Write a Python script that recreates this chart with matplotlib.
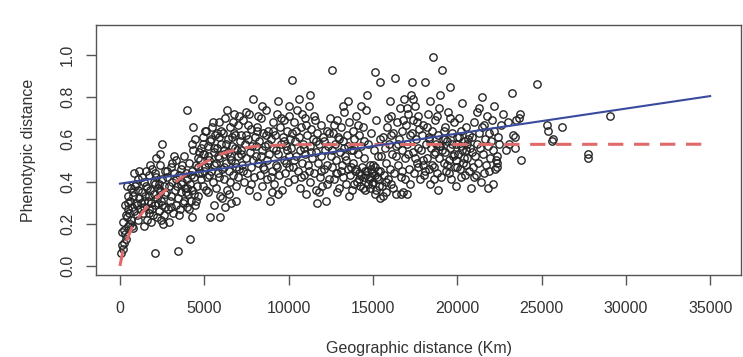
#!/usr/bin/env python3

import numpy as np
import matplotlib
matplotlib.use("Agg")
import matplotlib.pyplot as plt

plt.rcParams['font.family'] = ['Liberation Sans', 'DejaVu Sans']

# pairwise points (geographic km, phenotypic distance)
pts_0_1k = [(50, 0.06), (120, 0.10), (200, 0.08), (150, 0.16), (250, 0.17), (300, 0.15), (350, 0.13),
            (180, 0.21), (400, 0.23), (450, 0.19), (500, 0.27), (550, 0.25), (300, 0.29), (600, 0.31),
            (650, 0.22), (700, 0.28), (750, 0.35), (800, 0.33), (850, 0.26), (900, 0.38), (950, 0.30),
            (1000, 0.24), (1050, 0.36), (1100, 0.41), (1150, 0.32), (400, 0.38), (700, 0.19), (850, 0.44),
            (1000, 0.29), (1200, 0.27), (600, 0.20), (250, 0.11), (500, 0.33), (1100, 0.22), (950, 0.39),
            (350, 0.24), (800, 0.18), (1150, 0.45), (650, 0.37), (450, 0.30)]

pts_1_3k = [(1250, 0.30), (1300, 0.35), (1350, 0.25), (1400, 0.40), (1450, 0.28), (1500, 0.33), (1550, 0.38),
            (1600, 0.22), (1650, 0.31), (1700, 0.43), (1750, 0.27), (1800, 0.36), (1850, 0.30), (1900, 0.46),
            (1950, 0.24), (2000, 0.34), (2050, 0.39), (2100, 0.29), (2150, 0.42), (2200, 0.32), (2250, 0.37),
            (2300, 0.26), (2350, 0.48), (2400, 0.35), (2450, 0.31), (2500, 0.41), (2550, 0.20), (2600, 0.38),
            (2650, 0.45), (2700, 0.28), (1300, 0.42), (1450, 0.19), (1600, 0.37), (1750, 0.33), (1900, 0.27),
            (2050, 0.44), (2200, 0.23), (2350, 0.36), (2500, 0.29), (2650, 0.34), (1400, 0.31), (1700, 0.25),
            (2000, 0.40), (2300, 0.39), (2600, 0.24), (2080, 0.06), (2500, 0.58), (2400, 0.53), (1800, 0.48),
            (2150, 0.51), (1550, 0.45), (2450, 0.22), (1850, 0.21), (2250, 0.30)]

pts_3_5k = [(2750, 0.35), (2800, 0.42), (2850, 0.27), (2900, 0.38), (2950, 0.31), (3000, 0.47), (3050, 0.33),
            (3100, 0.40), (3150, 0.25), (3200, 0.44), (3250, 0.36), (3300, 0.29), (3350, 0.50), (3400, 0.38),
            (3450, 0.32), (3500, 0.43), (3550, 0.27), (3600, 0.46), (3650, 0.35), (3700, 0.40), (3750, 0.30),
            (3800, 0.52), (3850, 0.37), (3900, 0.44), (3950, 0.28), (4000, 0.41), (4050, 0.34), (4100, 0.49),
            (4150, 0.39), (4200, 0.31), (4250, 0.45), (4300, 0.36), (4350, 0.55), (4400, 0.42), (4450, 0.29),
            (4500, 0.48), (4550, 0.38), (4600, 0.33), (4650, 0.51), (4700, 0.44), (2900, 0.21), (3100, 0.49),
            (3300, 0.41), (3500, 0.24), (3700, 0.48), (3900, 0.35), (4100, 0.27), (4300, 0.58), (4500, 0.31),
            (4700, 0.54), (3000, 0.28), (3600, 0.39), (4200, 0.43), (3970, 0.74), (3440, 0.07), (4150, 0.13),
            (4270, 0.23), (4330, 0.66), (4450, 0.60), (3800, 0.31), (3200, 0.52), (4600, 0.47), (2800, 0.45),
            (4000, 0.37), (4400, 0.34)]

pts_5_7k = [(4750, 0.50), (4800, 0.56), (4850, 0.44), (4900, 0.61), (4950, 0.38), (5000, 0.53), (5050, 0.47),
            (5100, 0.64), (5150, 0.42), (5200, 0.57), (5250, 0.35), (5300, 0.50), (5350, 0.59), (5400, 0.45),
            (5450, 0.66), (5500, 0.40), (5550, 0.54), (5600, 0.48), (5650, 0.62), (5700, 0.37), (5750, 0.56),
            (5800, 0.44), (5850, 0.68), (5900, 0.51), (5950, 0.33), (6000, 0.58), (6050, 0.46), (6100, 0.63),
            (6150, 0.41), (6200, 0.55), (6250, 0.70), (6300, 0.49), (6350, 0.36), (6400, 0.60), (6450, 0.45),
            (6500, 0.66), (6550, 0.52), (6600, 0.30), (6650, 0.57), (6700, 0.43), (6750, 0.72), (6800, 0.49),
            (6850, 0.62), (6900, 0.38), (6950, 0.55), (7000, 0.67), (7050, 0.46), (7100, 0.59), (4800, 0.41),
            (4950, 0.58), (5100, 0.36), (5250, 0.52), (5400, 0.60), (5550, 0.29), (5700, 0.49), (5850, 0.42),
            (6000, 0.64), (6150, 0.53), (6300, 0.58), (6450, 0.34), (6600, 0.50), (6750, 0.63), (6900, 0.47),
            (7050, 0.71), (5000, 0.45), (5300, 0.43), (5600, 0.56), (5900, 0.61), (6200, 0.47), (6500, 0.40),
            (6800, 0.56), (7000, 0.52), (5340, 0.23), (5930, 0.23), (5040, 0.64), (6350, 0.74), (6700, 0.68),
            (5500, 0.68), (6050, 0.32), (6900, 0.31), (6250, 0.28), (5200, 0.49), (5800, 0.52), (6400, 0.54),
            (7000, 0.42), (6650, 0.61), (4900, 0.53), (5750, 0.63)]

pts_7_10k = [(7150, 0.55), (7200, 0.62), (7250, 0.48), (7300, 0.69), (7350, 0.40), (7400, 0.58), (7450, 0.51),
             (7500, 0.73), (7550, 0.44), (7600, 0.60), (7650, 0.36), (7700, 0.54), (7750, 0.65), (7800, 0.47),
             (7850, 0.57), (7900, 0.79), (7950, 0.42), (8000, 0.61), (8050, 0.52), (8100, 0.33), (8150, 0.66),
             (8200, 0.49), (8250, 0.59), (8300, 0.43), (8350, 0.70), (8400, 0.55), (8450, 0.38), (8500, 0.63),
             (8550, 0.46), (8600, 0.57), (8650, 0.74), (8700, 0.50), (8750, 0.41), (8800, 0.64), (8850, 0.53),
             (8900, 0.31), (8950, 0.60), (9000, 0.45), (9050, 0.68), (9100, 0.56), (9150, 0.39), (9200, 0.62),
             (9250, 0.48), (9300, 0.72), (9350, 0.78), (9400, 0.53), (9450, 0.43), (9500, 0.66), (9550, 0.58),
             (9600, 0.36), (9650, 0.61), (9700, 0.50), (9750, 0.69), (9800, 0.44), (9850, 0.57), (9900, 0.64),
             (9950, 0.40), (10000, 0.71), (10050, 0.52), (10100, 0.60), (7300, 0.45), (7600, 0.67), (7900, 0.50),
             (8200, 0.71), (8500, 0.47), (8800, 0.58), (9100, 0.64), (9400, 0.34), (9700, 0.59), (10000, 0.47),
             (7450, 0.62), (7750, 0.39), (8050, 0.57), (8350, 0.52), (8650, 0.62), (8950, 0.42), (9250, 0.55),
             (9550, 0.70), (9850, 0.49), (10050, 0.76), (7200, 0.53), (8100, 0.64), (9000, 0.35), (9900, 0.55),
             (10200, 0.88), (8450, 0.76), (7650, 0.72), (9300, 0.47)]

pts_10_12k = [(10150, 0.56), (10200, 0.63), (10250, 0.47), (10300, 0.68), (10350, 0.41), (10400, 0.59),
              (10450, 0.52), (10500, 0.74), (10550, 0.45), (10600, 0.61), (10650, 0.37), (10700, 0.55),
              (10750, 0.66), (10800, 0.49), (10850, 0.58), (10900, 0.43), (10950, 0.70), (11000, 0.53),
              (11050, 0.34), (11100, 0.62), (11150, 0.48), (11200, 0.76), (11250, 0.57), (11300, 0.40),
              (11350, 0.65), (11400, 0.51), (11450, 0.60), (11500, 0.44), (11550, 0.69), (11600, 0.54),
              (11650, 0.36), (11700, 0.63), (11750, 0.49), (11800, 0.58), (11850, 0.42), (11900, 0.67),
              (11950, 0.52), (12000, 0.38), (12050, 0.61), (12100, 0.46), (12150, 0.55), (12200, 0.31),
              (12250, 0.64), (12300, 0.48), (12350, 0.57), (12400, 0.41), (12450, 0.70), (12500, 0.52),
              (10300, 0.50), (10600, 0.79), (10900, 0.56), (11200, 0.45), (11500, 0.71), (11800, 0.35),
              (12100, 0.59), (12400, 0.63), (10450, 0.64), (10750, 0.42), (11050, 0.67), (11350, 0.54),
              (11650, 0.59), (11950, 0.45), (12250, 0.39), (10800, 0.72), (11700, 0.30), (12550, 0.93),
              (11250, 0.81)]

pts_12_15k = [(12550, 0.55), (12600, 0.47), (12650, 0.63), (12700, 0.41), (12750, 0.58), (12800, 0.50),
              (12850, 0.69), (12900, 0.44), (12950, 0.61), (13000, 0.37), (13050, 0.54), (13100, 0.66),
              (13150, 0.48), (13200, 0.59), (13250, 0.42), (13300, 0.73), (13350, 0.52), (13400, 0.39),
              (13450, 0.62), (13500, 0.46), (13550, 0.57), (13600, 0.68), (13650, 0.43), (13700, 0.55),
              (13750, 0.36), (13800, 0.64), (13850, 0.49), (13900, 0.60), (13950, 0.45), (14000, 0.71),
              (14050, 0.40), (14100, 0.53), (14150, 0.44), (14200, 0.62), (14250, 0.38), (14300, 0.57),
              (14350, 0.47), (14400, 0.66), (14450, 0.42), (14500, 0.51), (14550, 0.36), (14600, 0.74),
              (14650, 0.45), (14700, 0.58), (14750, 0.41), (14800, 0.48), (14850, 0.37), (14900, 0.63),
              (14950, 0.44), (15000, 0.40), (15050, 0.55), (15100, 0.34), (15150, 0.47), (15200, 0.69),
              (15250, 0.42), (15300, 0.52), (15350, 0.38), (15400, 0.60), (12700, 0.67), (12900, 0.35),
              (13100, 0.45), (13300, 0.56), (13500, 0.78), (13700, 0.47), (13900, 0.39), (14100, 0.67),
              (14300, 0.43), (14500, 0.59), (14700, 0.39), (14900, 0.46), (15100, 0.43), (15300, 0.41),
              (13000, 0.60), (13400, 0.50), (13800, 0.55), (14200, 0.41), (14600, 0.43), (15000, 0.48),
              (14400, 0.37), (14800, 0.42), (15200, 0.36), (13600, 0.33), (14000, 0.46), (15100, 0.92),
              (15400, 0.87), (15400, 0.32), (14650, 0.81), (13200, 0.76), (14300, 0.76), (15300, 0.45),
              (14950, 0.39), (14550, 0.45), (12800, 0.44)]

pts_15_18k = [(15450, 0.45), (15500, 0.52), (15550, 0.38), (15600, 0.61), (15650, 0.43), (15700, 0.56),
              (15750, 0.35), (15800, 0.49), (15850, 0.66), (15900, 0.41), (15950, 0.58), (16000, 0.46),
              (16050, 0.71), (16100, 0.39), (16150, 0.53), (16200, 0.63), (16250, 0.44), (16300, 0.89),
              (16350, 0.57), (16400, 0.34), (16450, 0.68), (16500, 0.48), (16550, 0.60), (16600, 0.75),
              (16650, 0.42), (16700, 0.55), (16750, 0.64), (16800, 0.35), (16850, 0.79), (16900, 0.51),
              (16950, 0.67), (17000, 0.34), (17050, 0.58), (17100, 0.72), (17150, 0.46), (17200, 0.62),
              (17250, 0.81), (17300, 0.87), (17350, 0.54), (17400, 0.69), (17450, 0.44), (17500, 0.76),
              (17550, 0.60), (17600, 0.49), (17650, 0.71), (17700, 0.56), (17750, 0.65), (17800, 0.41),
              (15600, 0.33), (15900, 0.70), (16200, 0.37), (16500, 0.58), (16800, 0.69), (17100, 0.53),
              (17400, 0.79), (17700, 0.47), (15800, 0.40), (16100, 0.62), (16400, 0.52), (16700, 0.45),
              (17000, 0.75), (17300, 0.63), (17600, 0.68), (16650, 0.34), (16900, 0.41), (17200, 0.39),
              (17500, 0.51), (16000, 0.78)]

pts_18_21k = [(17850, 0.55), (17900, 0.62), (17950, 0.48), (18000, 0.67), (18050, 0.43), (18100, 0.87),
              (18150, 0.58), (18200, 0.51), (18250, 0.72), (18300, 0.46), (18350, 0.61), (18400, 0.39),
              (18450, 0.56), (18500, 0.64), (18550, 0.99), (18600, 0.53), (18650, 0.47), (18700, 0.69),
              (18750, 0.58), (18800, 0.44), (18850, 0.62), (18900, 0.51), (18950, 0.75), (19000, 0.57),
              (19050, 0.42), (19100, 0.93), (19150, 0.60), (19200, 0.49), (19250, 0.66), (19300, 0.54),
              (19350, 0.45), (19400, 0.59), (19450, 0.73), (19500, 0.50), (19550, 0.85), (19600, 0.56),
              (19650, 0.41), (19700, 0.63), (19750, 0.52), (19800, 0.68), (19850, 0.47), (19900, 0.58),
              (19950, 0.38), (20000, 0.61), (20050, 0.53), (20100, 0.70), (20150, 0.46), (20200, 0.57),
              (20250, 0.64), (20300, 0.77), (20350, 0.49), (20400, 0.59), (20450, 0.43), (20500, 0.55),
              (20550, 0.66), (20600, 0.51), (20650, 0.60), (20700, 0.45), (20750, 0.56), (18000, 0.50),
              (18300, 0.60), (18600, 0.41), (18900, 0.57), (19200, 0.64), (19500, 0.44), (19800, 0.53),
              (20100, 0.61), (20400, 0.51), (20700, 0.62), (18200, 0.66), (18500, 0.48), (18800, 0.71),
              (19100, 0.55), (19400, 0.48), (19700, 0.58), (20000, 0.47), (20300, 0.55), (20600, 0.58),
              (18100, 0.45), (18700, 0.54), (19300, 0.60), (19900, 0.50), (20500, 0.48), (18400, 0.78),
              (19000, 0.81), (19600, 0.70), (20200, 0.42), (20800, 0.37), (18850, 0.36)]

pts_21_23k = [(20850, 0.54), (20900, 0.61), (20950, 0.47), (21000, 0.68), (21050, 0.52), (21100, 0.43),
              (21150, 0.58), (21200, 0.73), (21250, 0.49), (21300, 0.63), (21350, 0.56), (21400, 0.40),
              (21450, 0.66), (21500, 0.80), (21550, 0.53), (21600, 0.44), (21650, 0.60), (21700, 0.48),
              (21750, 0.71), (21800, 0.57), (21850, 0.37), (21900, 0.63), (21950, 0.51), (22000, 0.59),
              (22050, 0.69), (22100, 0.39), (22150, 0.55), (22200, 0.64), (22250, 0.46), (22300, 0.50),
              (22350, 0.49), (22350, 0.52), (22350, 0.47), (22400, 0.61), (22450, 0.58), (21000, 0.42),
              (21300, 0.75), (21600, 0.67), (21900, 0.45), (22200, 0.76)]

pts_far = [(22600, 0.67), (22700, 0.72), (23000, 0.68), (23250, 0.82), (23300, 0.62), (23400, 0.61),
           (23450, 0.56), (23500, 0.69), (23650, 0.70), (23700, 0.72), (23100, 0.58), (22900, 0.55),
           (24730, 0.86), (25350, 0.67), (25400, 0.64), (26200, 0.66), (25700, 0.60), (25600, 0.59),
           (27750, 0.53), (27750, 0.51), (29060, 0.71), (23800, 0.50)]

# fitted curves as they appear on the chart
lin_km = [0, 35000]
lin_fit = [0.39, 0.805]
sat_km = [0, 150, 300, 500, 700, 1000, 1500, 2000, 3000, 4000, 5000, 6000, 7000, 8000, 10000, 35000]
sat_fit = [0.0, 0.06, 0.10, 0.14, 0.18, 0.22, 0.27, 0.31, 0.38, 0.44, 0.49, 0.53, 0.555, 0.567, 0.575, 0.577]

all_pts = (pts_0_1k + pts_1_3k + pts_3_5k + pts_5_7k + pts_7_10k + pts_10_12k
           + pts_12_15k + pts_15_18k + pts_18_21k + pts_21_23k + pts_far)
geo_km = np.array([p[0] for p in all_pts])
pheno = np.array([p[1] for p in all_pts])

fig = plt.figure(figsize=(7.43, 3.57), dpi=100)
ax = fig.add_axes([96 / 743, 1 - 275 / 357, (741 - 96) / 743, (275 - 25) / 357])

ax.plot(geo_km, pheno, linestyle='none', marker='o', markersize=5.3,
        markerfacecolor='none', markeredgecolor='#262626', markeredgewidth=1.0)
ax.plot(sat_km, sat_fit, color='#e06a6a', linewidth=2.2, linestyle=(0, (5, 3.5)))
ax.plot(lin_km, lin_fit, color='#3a4a9c', linewidth=1.5)

ax.set_xlim(-1420, 36830)
ax.set_ylim(-0.043, 1.142)
ax.set_xticks(np.arange(0, 35001, 5000))
ax.set_yticks([0.0, 0.2, 0.4, 0.6, 0.8, 1.0])
ax.set_yticklabels(['0.0', '0.2', '0.4', '0.6', '0.8', '1.0'], rotation=90, va='center')

for s in ax.spines.values():
    s.set_color('#555555')
    s.set_linewidth(1.0)
ax.tick_params(direction='out', length=7, width=1, color='#555555',
               labelsize=11.5, labelcolor='#333333')
ax.tick_params(axis='x', pad=11.5)
ax.tick_params(axis='y', pad=8)

ax.set_xlabel('Geographic distance (Km)', fontsize=11.5, color='#333333', labelpad=18)
ax.set_ylabel('Phenotypic distance', fontsize=11.5, color='#333333', labelpad=17.5)

fig.savefig('out.png', dpi=100)
